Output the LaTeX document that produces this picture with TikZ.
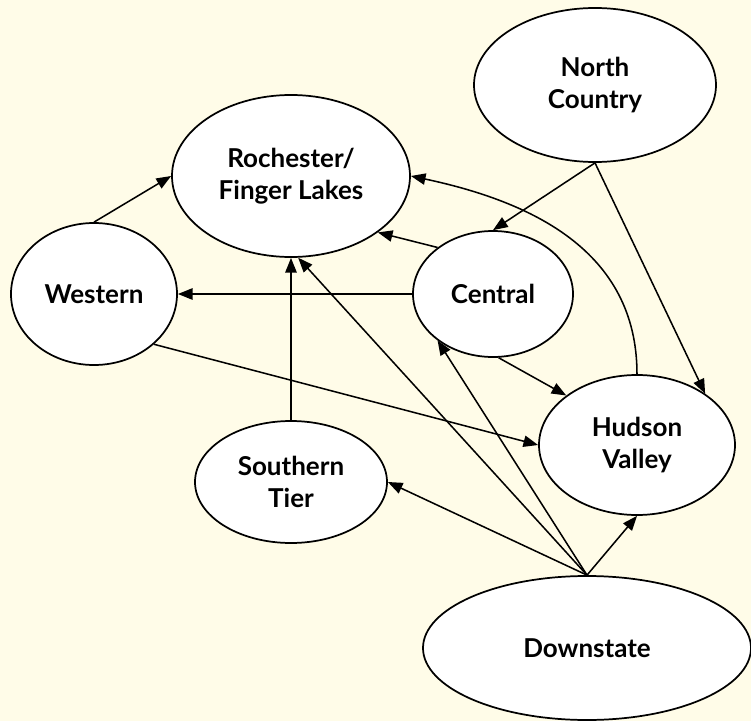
\documentclass[tikz,border=0pt]{standalone}
\usepackage{fontspec}
\setmainfont{Lato}
\usepackage{tikz}
\usetikzlibrary{arrows.meta,shapes.geometric}

\definecolor{cream}{RGB}{255,252,232}

\begin{document}
\begin{tikzpicture}[
  x=0.75pt, y=0.75pt,
  font=\fontsize{19.5}{24}\selectfont\bfseries,
  region/.style={ellipse, draw, line width=1.3pt, fill=white,
                 align=center, inner sep=0pt},
  arrow/.style={-{Triangle[length=11pt,width=8.5pt]}, line width=1.15pt},
]
  \fill[cream] (0,0) rectangle (751,-721);
  \useasboundingbox (0,0) rectangle (751,-721);

  \node[region, minimum width=181.5pt, minimum height=115.5pt] (north)
    at (595,-85) {North\\Country};
  \node[region, minimum width=178.5pt, minimum height=121.5pt] (roch)
    at (291,-176) {Rochester/\\Finger Lakes};
  \node[region, minimum width=124.5pt, minimum height=106.5pt] (west)
    at (94,-294) {Western};
  \node[region, minimum width=120pt, minimum height=94.5pt] (central)
    at (493,-294) {Central};
  \node[region, minimum width=147pt, minimum height=105pt] (hudson)
    at (637,-445) {Hudson\\Valley};
  \node[region, minimum width=144pt, minimum height=91.5pt] (south)
    at (291,-482) {Southern\\Tier};
  \node[region, minimum width=246pt, minimum height=108pt] (down)
    at (587,-648) {Downstate};

  \draw[arrow] (west.north) -- (roch.west);
  \draw[arrow] (central.west) -- (west.east);
  \draw[arrow] (central.140) -- (roch.-33);
  \draw[arrow] (north.south) -- (central.north);
  \draw[arrow] (north.south) -- (hudson.37);
  \draw[arrow] (hudson.north) to[out=90, in=-12, looseness=1.05] (roch.east);
  \draw[arrow] (central.-85) -- (hudson.145);
  \draw[arrow] (west.-40) -- (hudson.west);
  \draw[arrow] (south) -- (roch);

  \draw[arrow] (down.north) -- (south.east);
  \draw[arrow] (down.north) -- (roch.-85);
  \draw[arrow] (down.north) -- (central.220);
  \draw[arrow] (down.north) -- (hudson.south);

\end{tikzpicture}
\end{document}
